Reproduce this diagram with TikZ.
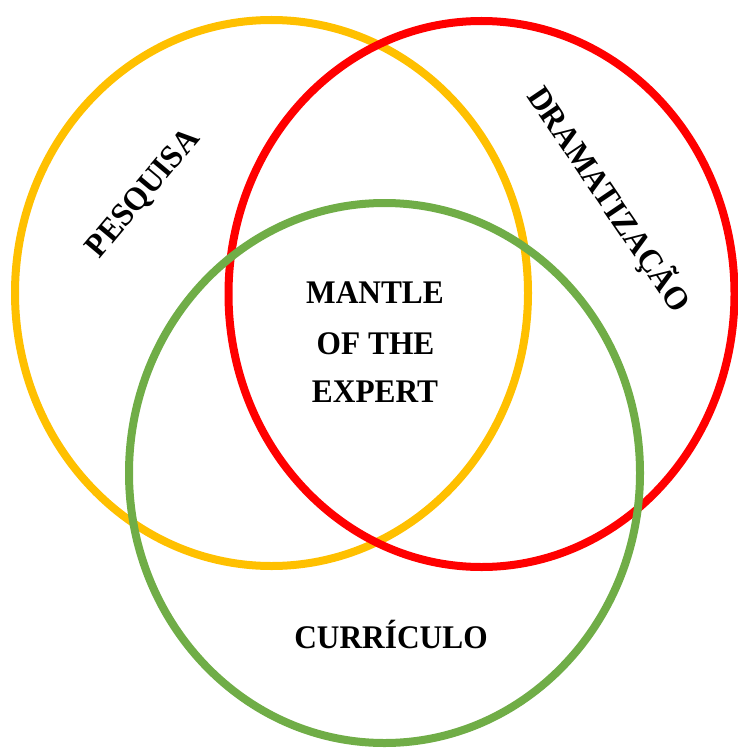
\documentclass[tikz,border=0pt]{standalone}
\usepackage{fontspec}
\newfontfamily\labfont[FakeStretch=0.95]{Liberation Serif}
\definecolor{cyellow}{HTML}{FFC000}
\definecolor{cred}{HTML}{FF0000}
\definecolor{cgreen}{HTML}{70AD47}
\tikzset{
  ring/.style={line width=8pt},
  lab/.style={font=\labfont\bfseries\fontsize{33}{40}\selectfont, inner sep=0pt, text=black},
}
\begin{document}
\begin{tikzpicture}[x=1pt,y=-1pt]
\useasboundingbox (0,0) rectangle (737,749);
\coordinate (cy) at (271.5,293);
\coordinate (cr) at (481.5,294);
\coordinate (cg) at (384.5,473);
\draw[ring, cyellow] (cy) ellipse [x radius=256.5pt, y radius=273pt];
\draw[ring, cred] (cr) ellipse [x radius=253pt, y radius=273pt];
\draw[ring, cgreen] (cg) ellipse [x radius=255.5pt, y radius=270pt];
\node[lab, anchor=base] (m1) at (375,303) {MANTLE};
\node[lab, anchor=base] (m2) at (375.5,354) {OF THE};
\node[lab, anchor=base] (m3) at (375,402) {EXPERT};
\node[lab, anchor=base] (cur) at (391,648) {CURRÍCULO};
\node[lab, anchor=base, rotate=50] (pes) at (150.2,199.4) {PESQUISA};
\node[lab, anchor=base, rotate=-55.9] (dra) at (600.1,205.5) {DRAMATIZAÇÃO};
\end{tikzpicture}
\end{document}
